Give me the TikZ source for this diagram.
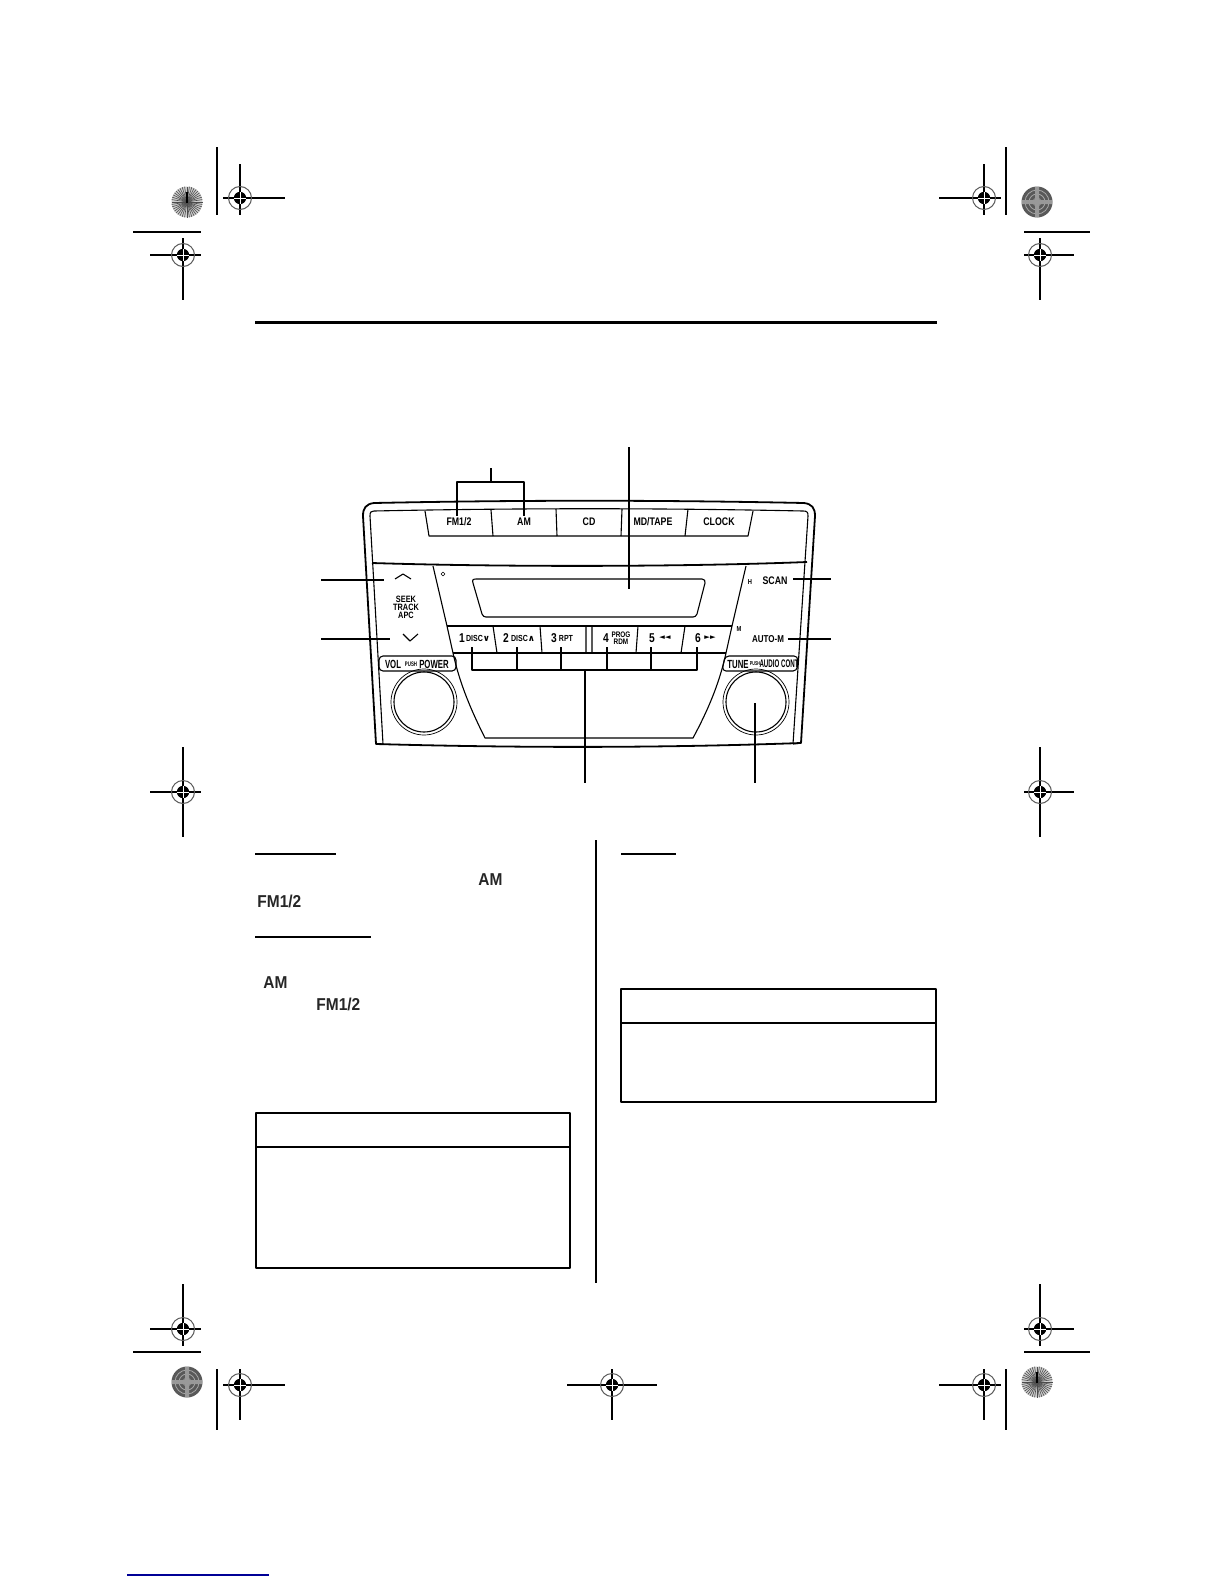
\documentclass[tikz,border=0pt]{standalone}
\usepackage{fontspec}
\setmainfont{Liberation Sans}
\newfontfamily\symfont{DejaVu Sans}
\newfontfamily\narrowa[FakeStretch=0.8]{Liberation Sans}
\newfontfamily\narrowb[FakeStretch=0.66]{Liberation Sans}
\newfontfamily\narrowc[FakeStretch=0.56]{Liberation Sans}
\newfontfamily\narrowd[FakeStretch=0.9]{Liberation Sans}
\newcommand{\txt}[2]{\fontsize{#2}{#2}#1\bfseries}

\begin{document}
\begin{tikzpicture}[x=0.5pt,y=-0.5pt,line join=round,
	panel/.style={line width=0.55pt},
	heavy/.style={line width=0.9pt},
	callout/.style={line width=0.55pt},
	rule/.style={line width=0.55pt},
	btn/.style={inner sep=0pt,outer sep=1pt,font=\txt{\narrowa}{5.5}},
	tiny/.style={inner sep=0pt,outer sep=1pt,font=\txt{\narrowa}{4.4}},
	num/.style={inner sep=0pt,outer sep=1pt,font=\txt{\narrowa}{6.4}},
	knoblabel/.style={inner sep=0pt,outer sep=1pt,font=\txt{\narrowb}{5.9}},
	word/.style={inner sep=0pt,anchor=west,font=\txt{\narrowd}{8.6},text=black!85}]

	\useasboundingbox (0,0) rectangle (1224,1584);

	% printer marks
	\foreach \cx/\cy/\lx/\rx/\ty/\by in {240/198/223/285/164/215,984/198/939/1001/164/215,
		183/255/150/201/238/300,1040/255/1024/1074/238/300,183/792/150/201/747/837,
		1040/792/1024/1074/747/837,183/1329/150/201/1284/1346,1040/1329/1024/1074/1284/1346,
		240/1385/223/285/1369/1420,984/1385/939/1001/1369/1420,612/1385/567/657/1369/1420}{
		\draw[line width=0.65pt] (\lx,\cy) -- (\rx,\cy) (\cx,\ty) -- (\cx,\by);
		\draw[black!65,line width=0.5pt] (\cx,\cy) circle (11.5);
		\fill (\cx,\cy) circle (6.2);
		\draw[white,line width=0.25pt] (\cx-6.2,\cy) -- (\cx+6.2,\cy) (\cx,\cy-6.2) -- (\cx,\cy+6.2);
	}
	\foreach \cx/\cy in {187/202,1037/1382}{
		\fill[black!20] (\cx,\cy) circle (15.5);
		\foreach \a in {0,9,...,351}
			\draw[black!70,line width=0.3pt] (\cx,\cy) -- ++(\a:15.5);
		\draw[line width=0.6pt] (\cx,\cy-10) -- (\cx,\cy+1);
	}
	\foreach \cx/\cy in {1037/202,187/1382}{
		\fill[black!65] (\cx,\cy) circle (15.5);
		\foreach \r in {4,8,12}
			\draw[black!35,line width=0.4pt] (\cx,\cy) circle (\r);
		\fill[black!40] (\cx-2,\cy-15) rectangle (\cx+2,\cy+15) (\cx-15,\cy-2) rectangle (\cx+15,\cy+2);
	}
	\draw[line width=0.65pt] (217,147) -- (217,215) (1006,147) -- (1006,215);
	\draw[line width=0.65pt] (217,1369) -- (217,1430) (1006,1369) -- (1006,1430);
	\draw[line width=0.65pt] (133,232) -- (201,232) (1024,232) -- (1090,232);
	\draw[line width=0.65pt] (133,1352) -- (201,1352) (1024,1352) -- (1090,1352);

	% page rules
	\draw[line width=1.5pt] (255,322) -- (937,322);
	\draw[rule] (255,854) -- (336,854) (621,854) -- (676,854);
	\draw[line width=0.9pt] (255,937) -- (371,937);
	\draw[rule] (596,840) -- (596,1283);
	\draw[rule] (256,1113) rectangle (570,1268) (256,1147) -- (570,1147);
	\draw[rule] (621,989) rectangle (936,1102) (621,1023) -- (936,1023);
	\draw[color={rgb,255:red,0;green,0;blue,150},line width=0.6pt] (127,1575) -- (269,1575);

	\node[word] (amone) at (478,880) {AM};
	\node[word] (fmone) at (257,901) {FM1/2};
	\node[word] (amtwo) at (263,983) {AM};
	\node[word] (fmtwo) at (316,1004) {FM1/2};

	% radio body
	\draw[heavy] (363,516) .. controls (363,508) and (366,504) .. (374,503)
		.. controls (520,500) and (660,500) .. (804,503)
		.. controls (812,504) and (815,508) .. (815,516) -- (801,743)
		.. controls (660,748) and (520,748) .. (376,744) -- cycle;
	\draw[panel] (376,744) -- (383,744) (801,743) -- (793,744);
	\draw[panel] (383,744) -- (370,516) .. controls (370,512) and (371,511) .. (374,511)
		.. controls (520,508) and (660,508) .. (803,511)
		.. controls (807,511) and (808,512) .. (808,516) -- (793,744);
	\draw[panel] (425,511) -- (429,536) -- (748,536) -- (753,511);
	\draw[panel] (491,510) -- (493,536) (556,509) -- (557,536) (622,509) -- (621,536) (688,509) -- (685,536);
	\draw[heavy] (372,563) .. controls (500,567) and (680,567) .. (807,562);

	% display
	\draw[panel] (473,583) .. controls (472,580) and (473,579) .. (476,579) -- (702,579)
		.. controls (705,579) and (705,581) .. (705,583) -- (697,614)
		.. controls (696,616) and (695,617) .. (693,617) -- (486,617)
		.. controls (484,617) and (483,616) .. (482,614) -- cycle;
	\draw[panel] (433,566) -- (447,626) -- (453,653) .. controls (460,685) and (472,712) .. (485,738) -- (693,738)
		.. controls (707,712) and (719,685) .. (726,653) -- (732,626) -- (746,566);
	\draw[panel] (447,626) -- (732,626) (453,653) -- (726,653);
	\draw[panel] (493,626) -- (497,653) (540,626) -- (542,653) (586,626) -- (586,653) (592,626) -- (592,653)
		(638,626) -- (636,653) (685,626) -- (681,653);

	% knobs
	\draw[panel,rounded corners=2pt] (379,656) -- (456,656) -- (456,671) -- (379,671) -- cycle;
	\draw[panel,rounded corners=2pt] (725,656) -- (798,656) -- (797,671) -- (722,671) -- cycle;
	\foreach \cx in {424,756}{
		\draw[panel] (\cx,702) circle (30);
		\draw[line width=0.35pt] (\cx,702) circle (33);
	}
	\coordinate (tunecentre) at (755,703);

	\draw[panel] (395,579) -- (403,574) -- (411,579);
	\draw[panel] (403,634) -- (410,641) -- (418,634);
	\draw[line width=0.3pt] (443,572) -- (445,574) -- (443,576) -- (441,574) -- cycle;

	\node[btn] (fmkey) at (459,522) {FM1/2};
	\node[btn] (amkey) at (524,522) {AM};
	\node[btn] (cdkey) at (589,522) {CD};
	\node[btn] (mdkey) at (653,522) {MD/TAPE};
	\node[btn] (clockkey) at (719,522) {CLOCK};
	\node[btn,align=center,font=\fontsize{4.6}{4}\narrowa\bfseries] (seek) at (406,607) {SEEK\\TRACK\\APC};
	\node[btn,outer sep=3pt] (scan) at (775,581) {SCAN};
	\node[btn,outer sep=2pt,font=\txt{\narrowa}{5}] (autom) at (768,639) {AUTO-M};
	\node[tiny,font=\txt{\narrowa}{3.6}] (hmark) at (750,582) {H};
	\node[tiny,font=\txt{\narrowa}{3.6}] (mmark) at (739,629) {M};

	\node[num] (keya) at (462,638) {1};
	\node[tiny] (keyat) at (478,638) {DISC{\symfont∨}};
	\node[num] (keyb) at (506,638) {2};
	\node[tiny] (keybt) at (523,638) {DISC{\symfont∧}};
	\node[num] (keyc) at (554,638) {3};
	\node[tiny] (keyct) at (566,638) {RPT};
	\node[num] (keyd) at (606,638) {4};
	\node[tiny,font=\fontsize{4}{3.6}\narrowa\bfseries,align=center] (keydt) at (621,638) {PROG\\RDM};
	\node[num] (keye) at (652,638) {5};
	\node[tiny,font=\fontsize{3.6}{3.6}\symfont] (keyet) at (665,638) {◄◄};
	\node[num] (keyf) at (698,638) {6};
	\node[tiny,font=\fontsize{3.6}{3.6}\symfont] (keyft) at (710,638) {►►};

	\node[knoblabel] (vol) at (393,664) {VOL};
	\node[knoblabel,font=\txt{\narrowb}{3.3}] (volpush) at (411,664) {PUSH};
	\node[knoblabel] (power) at (434,664) {POWER};
	\node[knoblabel] (tune) at (738,664) {TUNE};
	\node[knoblabel,font=\txt{\narrowb}{2.8}] (tunepush) at (755,664) {PUSH};
	\node[knoblabel,font=\txt{\narrowc}{5.5}] (audio) at (779,664) {AUDIO CONT};

	% callouts
	\coordinate (bandtop) at (491,468);
	\coordinate (bandjoin) at (491,482);
	\coordinate (disptop) at (629,447);
	\coordinate (dispend) at (629,589);
	\coordinate (seekup) at (321,580);
	\coordinate (seekupend) at (384,580);
	\coordinate (seekdown) at (321,639);
	\coordinate (seekdownend) at (390,639);
	\coordinate (scanend) at (831,579);
	\coordinate (automend) at (831,639);
	\coordinate (presetjoin) at (585,670);
	\coordinate (presetend) at (585,783);
	\coordinate (tuneend) at (755,783);

	\draw[callout] (bandtop) -- (bandjoin);
	\draw[callout] (fmkey.north) ++(-2,0) |- (bandjoin) -| (amkey.north);
	\draw[callout] (disptop) -- (dispend);
	\draw[callout] (seekup) -- (seekupend);
	\draw[callout] (seekdown) -- (seekdownend);
	\draw[callout] (scan.east |- scanend) -- (scanend);
	\draw[callout] (autom.east) -- (automend);
	\draw[callout] (presetjoin) -- (presetend);
	\draw[callout] (tunecentre) -- (tuneend);
	\draw[callout] (472,647) |- (697,670) -- (697,647);
	\foreach \px in {517,561,607,651}
		\draw[callout] (\px,647) -- (\px,670);

\end{tikzpicture}
\end{document}
